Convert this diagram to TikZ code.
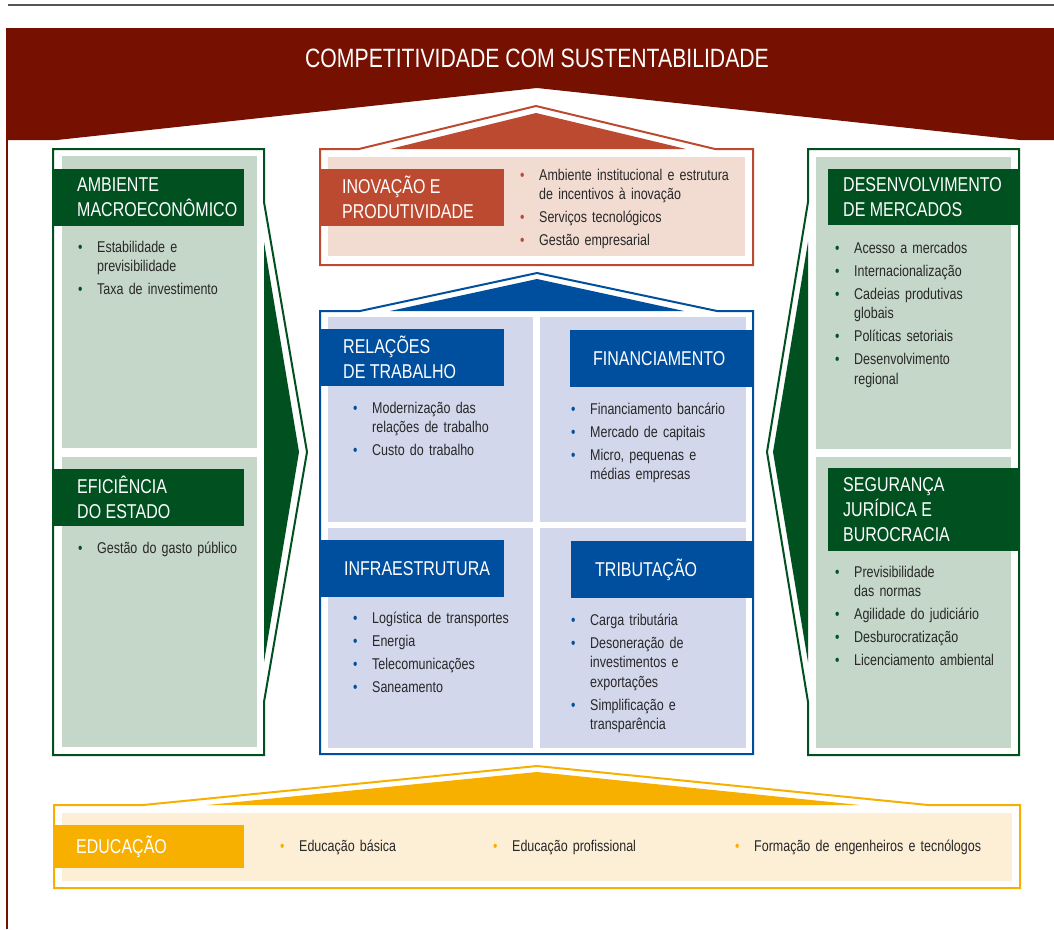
\documentclass[tikz,border=0pt]{standalone}
\usepackage{fontspec}
\setmainfont{Liberation Sans}[FakeStretch=0.8]
\usepackage{tikz}
\usetikzlibrary{positioning}

\definecolor{cmaroon}{RGB}{118,16,0}
\definecolor{cgray}{RGB}{85,85,85}
\definecolor{cgreen}{RGB}{0,80,32}
\definecolor{clgreen}{RGB}{197,215,200}
\definecolor{crust}{RGB}{188,74,48}
\definecolor{clrust}{RGB}{242,220,210}
\definecolor{cblue}{RGB}{0,79,158}
\definecolor{clblue}{RGB}{210,215,235}
\definecolor{cgold}{RGB}{248,176,0}
\definecolor{clgold}{RGB}{253,239,214}
\definecolor{ctext}{RGB}{40,40,40}

\newcommand{\ttlfont}{\fontsize{26.5}{30}\selectfont}
\newcommand{\hdrfont}{\fontsize{20}{25}\selectfont}
\newcommand{\lstfont}{\fontsize{15.6}{19.5}\selectfont}
% one bullet point, later lines hang under the text
\newcommand{\bit}[1]{\hangindent=19pt\hangafter=1\noindent
  \makebox[19pt][l]{\textcolor{bcol}{\textbullet}}#1\par}

\tikzstyle{hdr}=[text=white,font=\hdrfont,align=left,inner sep=0pt,anchor=west]
\tikzstyle{lst}=[text=ctext,font=\lstfont,text width=250pt,align=left,
  inner sep=0pt,anchor=base west]
\tikzset{bul/.style={lst,execute at begin node={\setlength{\parskip}{3.5pt}\colorlet{bcol}{#1}}}}
\tikzstyle{frame}=[line width=2pt]

\begin{document}
\begin{tikzpicture}[x=1pt,y=-1pt]
  \useasboundingbox (0,0) rectangle (1054,929);
  % Roof:
  \draw[line width=1.5pt,cgray] (8,5) -- (1054,5);
  \fill[cmaroon] (6,28) -- (1054,28) -- (1054,140) -- (1020,140) -- (537,88)
    -- (57,140) -- (6,140) -- cycle;
  \draw[line width=2.5pt,cmaroon] (7,139) -- (7,929);
  \node (title) [text=white,font=\ttlfont] at (537,58) {COMPETITIVIDADE COM SUSTENTABILIDADE};

  % Left pillar:
  \draw[frame,cgreen] (53,149) -- (264,149) -- (264,202) -- (307,452) -- (264,702)
    -- (264,755) -- (53,755) -- cycle;
  \fill[cgreen] (264,242) -- (299,452) -- (264,662) -- cycle;
  \fill[clgreen] (62,156) rectangle (257,448);
  \fill[clgreen] (62,457) rectangle (257,747);
  \fill[cgreen] (53,169) rectangle (244,226);
  \fill[cgreen] (53,469) rectangle (244,526);
  \node (h_amb) [hdr] at (77,197.5) {AMBIENTE\\MACROECONÔMICO};
  \node (l_amb) [bul=cgreen] at (78,252) {\bit{Estabilidade e\newline previsibilidade}
    \bit{Taxa de investimento}};
  \node (h_efi) [hdr] at (77,497.5) {EFICIÊNCIA\\DO ESTADO};
  \node (l_efi) [bul=cgreen] at (78,553) {\bit{Gestão do gasto público}};

  % Right pillar:
  \draw[frame,cgreen] (1019,149) -- (808,149) -- (808,202) -- (767,452) -- (808,702)
    -- (808,755) -- (1019,755) -- cycle;
  \fill[cgreen] (808,242) -- (773,452) -- (808,662) -- cycle;
  \fill[clgreen] (816,157) rectangle (1011,449);
  \fill[clgreen] (816,457) rectangle (1011,748);
  \fill[cgreen] (828,169) rectangle (1019,225);
  \fill[cgreen] (828,468) rectangle (1019,551);
  \node (h_mer) [hdr] at (843,197) {DESENVOLVIMENTO\\DE MERCADOS};
  \node (l_mer) [bul=cgreen] at (835,253) {\bit{Acesso a mercados}
    \bit{Internacionalização}
    \bit{Cadeias produtivas\newline globais}
    \bit{Políticas setoriais}
    \bit{Desenvolvimento\newline regional}};
  \node (h_seg) [hdr] at (843,510) {SEGURANÇA\\JURÍDICA E\\BUROCRACIA};
  \node (l_seg) [bul=cgreen] at (835,577) {\bit{Previsibilidade\newline das normas}
    \bit{Agilidade do judiciário}
    \bit{Desburocratização}
    \bit{Licenciamento ambiental}};

  % Innovation block:
  \draw[frame,crust] (320,265) -- (320,149) -- (359,149) -- (536,106) -- (715,149)
    -- (753,149) -- (753,265) -- cycle;
  \fill[crust] (390,149) -- (536,113) -- (686,149) -- cycle;
  \fill[clrust] (328,157) rectangle (745,256);
  \fill[crust] (320,169) rectangle (504,226);
  \node (h_ino) [hdr] at (342,197.5) {INOVAÇÃO E\\PRODUTIVIDADE};
  \node (l_ino) [bul=crust] at (520,180) {\bit{Ambiente institucional e estrutura\newline de incentivos à inovação}
    \bit{Serviços tecnológicos}
    \bit{Gestão empresarial}};

  % Four blue blocks:
  \draw[frame,cblue] (320,754) -- (320,311) -- (360,311) -- (537,273) -- (717,311)
    -- (753,311) -- (753,754) -- cycle;
  \fill[cblue] (390,311) -- (537,279) -- (684,311) -- cycle;
  \fill[clblue] (328,317) rectangle (533,522);
  \fill[clblue] (540,317) rectangle (746,522);
  \fill[clblue] (328,528) rectangle (533,748);
  \fill[clblue] (540,528) rectangle (746,748);
  \fill[cblue] (320,329) rectangle (504,386);
  \fill[cblue] (570,330) rectangle (753,387);
  \fill[cblue] (320,540) rectangle (504,597);
  \fill[cblue] (571,541) rectangle (753,598);
  \node (h_rel) [hdr] at (343,357.5) {RELAÇÕES\\DE TRABALHO};
  \node (l_rel) [bul=cblue] at (353,413) {\bit{Modernização das\newline relações de trabalho}
    \bit{Custo do trabalho}};
  \node (h_fin) [hdr] at (593,359) {FINANCIAMENTO};
  \node (l_fin) [bul=cblue] at (571,414) {\bit{Financiamento bancário}
    \bit{Mercado de capitais}
    \bit{Micro, pequenas e\newline médias empresas}};
  \node (h_inf) [hdr] at (344,569) {INFRAESTRUTURA};
  \node (l_inf) [bul=cblue] at (353,623) {\bit{Logística de transportes}
    \bit{Energia}
    \bit{Telecomunicações}
    \bit{Saneamento}};
  \node (h_tri) [hdr] at (595,570) {TRIBUTAÇÃO};
  \node (l_tri) [bul=cblue] at (571,625) {\bit{Carga tributária}
    \bit{Desoneração de\newline investimentos e\newline exportações}
    \bit{Simplificação e\newline transparência}};

  % Base:
  \draw[frame,cgold] (54,888) -- (54,805) -- (143,805) -- (537,766) -- (928,805)
    -- (1020,805) -- (1020,888) -- cycle;
  \fill[cgold] (207,805) -- (537,772) -- (860,805) -- cycle;
  \fill[clgold] (62,813) rectangle (1012,881);
  \fill[cgold] (54,825) rectangle (244,868);
  \node (h_edu) [hdr] at (76,846.5) {EDUCAÇÃO};
  \node (l_edu1) [bul=cgold] at (280,851) {\bit{Educação básica}};
  \node (l_edu2) [bul=cgold] at (493,851) {\bit{Educação profissional}};
  \node (l_edu3) [bul=cgold] at (735,851) {\bit{Formação de engenheiros e tecnólogos}};
\end{tikzpicture}
\end{document}
